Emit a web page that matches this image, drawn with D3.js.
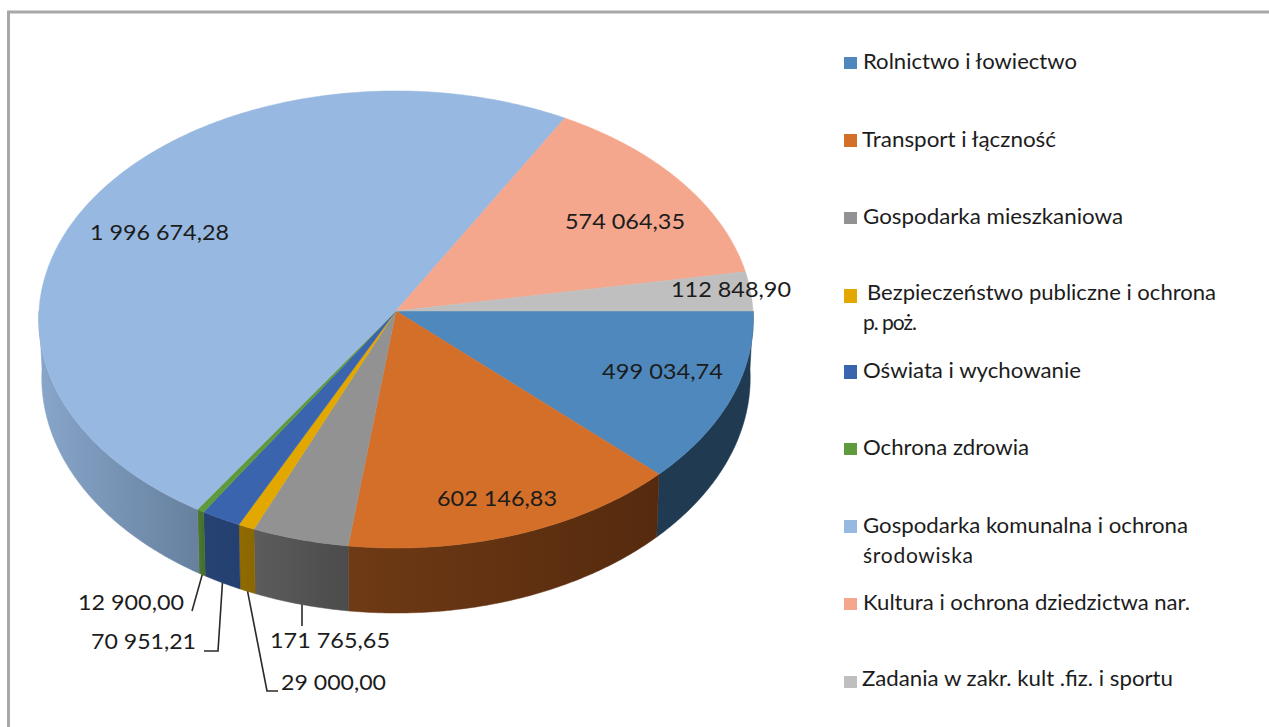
<!DOCTYPE html>
<html lang="pl">
<head>
<meta charset="utf-8">
<script src="https://cdn.jsdelivr.net/npm/d3@7"></script>
<style>
html,body{margin:0;padding:0;background:#fff;overflow:hidden}
svg{display:block}
text{font-family:Lato,"Open Sans",sans-serif;fill:#1c1c1c}
</style>
</head>
<body>
<svg id="chart" width="1269" height="727"></svg>
<script>
// ---- data ----
const categories = [
  "Rolnictwo i łowiectwo",
  "Transport i łączność",
  "Gospodarka mieszkaniowa",
  "Bezpieczeństwo publiczne i ochrona",
  "Oświata i wychowanie",
  "Ochrona zdrowia",
  "Gospodarka komunalna i ochrona",
  "Kultura i ochrona dziedzictwa nar.",
  "Zadania w zakr. kult .fiz. i sportu"
];
const categoryContinuation = ["", "", "", "p. poż.", "", "", "środowiska", "", ""];
const values = [499034.74, 602146.83, 171765.65, 29000.00, 70951.21, 12900.00, 1996674.28, 574064.35, 112848.90];

// ---- styles ----
const topColors = ["#4f88bd", "#d46f29", "#929292", "#e3a800", "#3a64ad", "#5f9a3c", "#97b8e0", "#f4a78c", "#bfbfbf"];
const sideLeft  = ["#203a52", "#6f3a15", "#5c5c5c", "#916b00", "#264274", "#4c7a30", "#88a6ca", "#a86e58", "#7a7a7a"];
const sideRight = ["#203a52", "#552a0e", "#4b4b4b", "#8a6600", "#234070", "#446c2a", "#66809e", "#a86e58", "#7a7a7a"];

// ---- layout of labels and legend (screen placement only) ----
const legendRows = [62, 140, 217, 293, 371, 448, 526, 603, 679];
const legendSwatchTop = [57, 134, 212, 289, 365, 443, 520, 598, 676];
const legendSwatchH = [12, 13, 12, 14, 14, 12, 13, 12, 12];
const legendTextX = [863, 862, 863, 867, 863, 863, 863, 863, 862];
const legendTextW = [214, 194, 260, 349, 218, 166, 325, 327, 311];
const contW = [0, 0, 0, 54, 0, 0, 110, 0, 0];
const contY = [0, 0, 0, 323, 0, 0, 556, 0, 0];
const labelX = [602, 437, 270, 281, 91, 78, 90, 565, 671];
const labelY = [371, 498, 640, 682, 641, 602, 232, 221, 289];
const labelW = [121, 120, 120, 105, 105, 106, 139, 120, 120];

// ---- geometry ----
const svg = d3.select("#chart");
const PERSP = 0.037;
const topPlane = {cx: 396, cy: 311, rx: 357, ry: 228.2};
const lowPlane = {cx: 396, cy: 369, rx: 354, ry: 235};
function project(plane, theta) {
  const s = Math.sin(theta), c = Math.cos(theta), w = 1 - PERSP * s;
  return [plane.cx + plane.rx * c / w, plane.cy + plane.ry * s / w];
}
// d3.pie angles run clockwise from 12 o'clock; the first slice starts at 3 o'clock.
const pie = d3.pie().sort(null).startAngle(Math.PI / 2).endAngle(Math.PI / 2 + 2 * Math.PI);
const arcs = pie(values).map((d, i) => ({
  i, a0: d.startAngle - Math.PI / 2, a1: d.endAngle - Math.PI / 2
}));
const line = d3.line();
function rim(plane, a0, a1) {
  const n = Math.max(2, Math.ceil((a1 - a0) / 0.01));
  return d3.range(n + 1).map(k => project(plane, a0 + (a1 - a0) * k / n));
}

// ---- frame ----
svg.append("path").attr("d", "M8.5,727V12H1269").attr("fill", "none")
  .attr("stroke", "#a8a8a8").attr("stroke-width", 3);

// ---- side walls ----
const defs = svg.append("defs");
arcs.forEach(d => {
  const a0 = Math.max(d.a0, 0), a1 = Math.min(d.a1, Math.PI);
  if (a1 <= a0) return;
  const top = rim(topPlane, a0, a1), low = rim(lowPlane, a0, a1);
  const xs = top.concat(low).map(p => p[0]);
  const g = defs.append("linearGradient").attr("id", "side" + d.i)
    .attr("gradientUnits", "userSpaceOnUse")
    .attr("x1", d3.min(xs)).attr("x2", d3.max(xs)).attr("y1", 0).attr("y2", 0);
  g.append("stop").attr("offset", 0).attr("stop-color", sideLeft[d.i]);
  g.append("stop").attr("offset", 1).attr("stop-color", sideRight[d.i]);
  svg.append("path")
    .attr("d", line(top.concat(low.reverse())) + "Z")
    .attr("fill", "url(#side" + d.i + ")")
    .attr("stroke", "url(#side" + d.i + ")").attr("stroke-width", 0.5);
});

// ---- top face ----
arcs.forEach(d => {
  const pts = [[topPlane.cx, topPlane.cy]].concat(rim(topPlane, d.a0, d.a1));
  svg.append("path").attr("d", line(pts) + "Z")
    .attr("fill", topColors[d.i]).attr("stroke", topColors[d.i]).attr("stroke-width", 0.5);
});

// ---- leader lines: start on the lower rim of their slice ----
const leaderBends = {
  3: [[267, 691], [278, 691]],
  4: [[218, 651], [204, 651]],
  5: [[192, 611]],
  2: [[302, 626]]
};
Object.keys(leaderBends).forEach(k => {
  const d = arcs[+k];
  const start = project(lowPlane, (d.a0 + d.a1) / 2);
  const pts = [+k === 2 ? [leaderBends[k][0][0], start[1]] : start].concat(leaderBends[k]);
  svg.append("path").attr("d", line(pts)).attr("fill", "none")
    .attr("stroke", "#2a2a2a").attr("stroke-width", 1.6);
});

// ---- value labels ----
const fmt = d3.formatLocale({decimal: ",", thousands: " ", grouping: [3], currency: ["", ""]}).format(",.2f");
svg.append("g").selectAll("text").data(values).join("text")
  .attr("x", (d, i) => labelX[i])
  .attr("y", (d, i) => labelY[i] + 8)
  .attr("font-size", 22)
  .attr("textLength", (d, i) => labelW[i])
  .attr("lengthAdjust", "spacingAndGlyphs")
  .text(d => fmt(d));

// ---- legend ----
const legend = svg.append("g");
categories.forEach((name, i) => {
  legend.append("rect").attr("x", 844).attr("y", legendSwatchTop[i])
    .attr("width", 13).attr("height", legendSwatchH[i]).attr("fill", topColors[i]);
  legend.append("text").attr("x", legendTextX[i]).attr("y", legendRows[i] + 7)
    .attr("font-size", 21).attr("textLength", legendTextW[i])
    .attr("lengthAdjust", "spacingAndGlyphs").text(name);
  if (categoryContinuation[i]) {
    legend.append("text").attr("x", 863).attr("y", contY[i] + 7)
      .attr("font-size", 21).attr("textLength", contW[i])
      .attr("lengthAdjust", "spacing").text(categoryContinuation[i]);
  }
});
</script>
</body>
</html>
